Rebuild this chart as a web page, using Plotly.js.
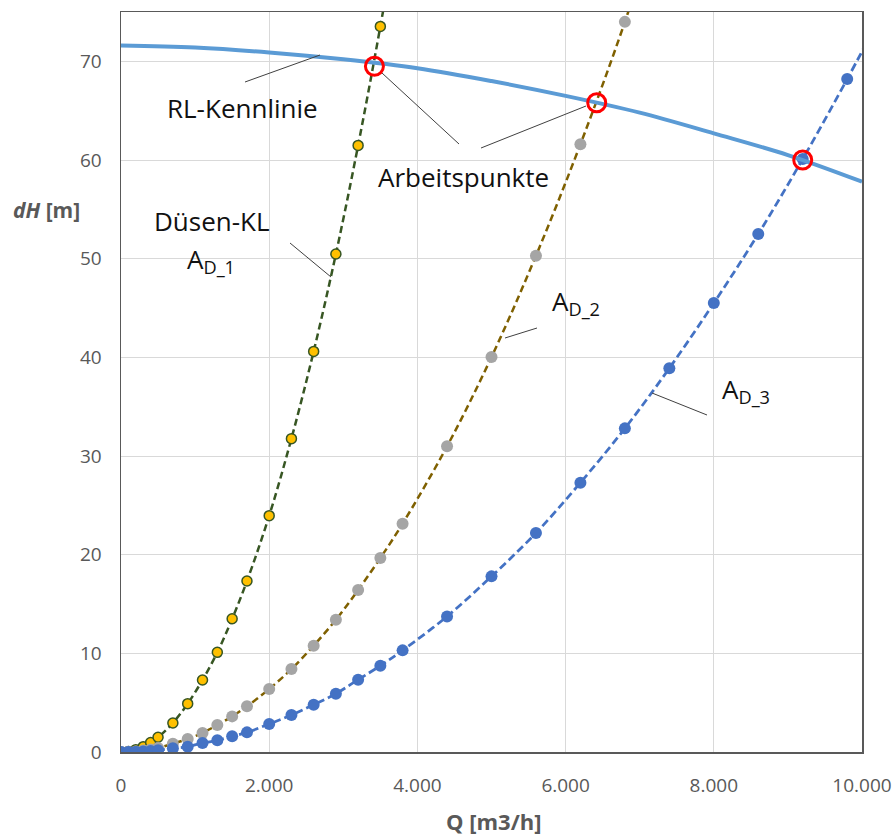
<!DOCTYPE html>
<html>
<head>
<meta charset="utf-8">
<script src="https://cdn.plot.ly/plotly-3.0.1.min.js"></script>
<style>html,body{margin:0;padding:0;background:#fff;}#chart{width:893px;height:838px;}</style>
</head>
<body>
<div id="chart"></div>
<script>
// ---- data ----
const Q_D1 = [0,100,200,300,400,500,700,900,1100,1300,1500,1700,2000,2300,2600,2900,3200,3500,3800];
const H_D1 = [0,0.06,0.24,0.54,0.96,1.49,2.94,4.9,7.3,10.1,13.5,17.33,23.95,31.76,40.6,50.47,61.48,73.54,86.6];

const Q_D2 = [0,100,200,300,400,500,700,900,1100,1300,1500,1700,2000,2300,2600,2900,3200,3500,3800,4400,5000,5600,6200,6800,7400];
const H_D2 = [0,0.02,0.06,0.14,0.26,0.4,0.84,1.32,1.93,2.74,3.61,4.63,6.39,8.41,10.78,13.41,16.42,19.66,23.14,30.98,40.03,50.3,61.6,74.0,88.0];

const Q_D3 = [0,100,200,300,400,500,700,900,1100,1300,1500,1700,2000,2300,2600,2900,3200,3500,3800,4400,5000,5600,6200,6800,7400,8000,8600,9200,9800,10400];
const H_D3 = [0,0.01,0.03,0.06,0.11,0.18,0.37,0.54,0.91,1.18,1.59,1.99,2.84,3.75,4.8,5.91,7.33,8.75,10.3,13.74,17.8,22.2,27.3,32.8,38.9,45.5,52.5,60.1,68.2,76.7];

const Q_RL = [0,1000,2000,3000,4000,5000,6000,7000,8000,9000,10000];
const H_RL = [71.6,71.4,70.9,70.2,69.3,68.0,66.5,64.8,62.7,60.5,57.8];

const Q_AP = [3420,6420,9200];
const H_AP = [69.5,65.8,60.0];

const xTickVals = [0,2000,4000,6000,8000,10000];
const yTickVals = [0,10,20,30,40,50,60,70];

// ---- layout helpers (pixel -> paper) ----
const L = 121, R = 862, T = 12, B = 752;
const px = x => (x - L) / (R - L);
const py = y => (B - y) / (B - T);

const FONT = "Open Sans, Noto Sans, sans-serif";
const dashPat = "7px,4px";

const traces = [
  {x: Q_D1, y: H_D1, type: 'scatter', mode: 'lines+markers',
   line: {color: '#375623', width: 2.5, dash: dashPat, shape: 'spline'},
   marker: {color: '#FFC000', size: 10, line: {color: '#375623', width: 1.5}}},
  {x: Q_D2, y: H_D2, type: 'scatter', mode: 'lines+markers',
   line: {color: '#7F6000', width: 2.5, dash: dashPat, shape: 'spline'},
   marker: {color: '#A5A5A5', size: 12, line: {width: 0}}},
  {x: Q_D3, y: H_D3, type: 'scatter', mode: 'lines+markers',
   line: {color: '#4472C4', width: 2.75, dash: "8px,4px", shape: 'spline'},
   marker: {color: '#4472C4', size: 12, line: {width: 0}}},
  {x: Q_RL, y: H_RL, type: 'scatter', mode: 'lines',
   line: {color: '#5B9BD5', width: 4, shape: 'spline'}},
  {x: Q_AP, y: H_AP, type: 'scatter', mode: 'markers',
   marker: {symbol: 'circle-open', color: '#FF0000', size: 18, line: {color: '#FF0000', width: 3}}}
];

// white label boxes (cover gridlines), in pixel coords
const boxes = [
  [150, 82, 335, 140],   // RL-Kennlinie
  [363, 150, 557, 202],  // Arbeitspunkte
  [133, 193, 290, 293],  // Düsen-KL
  [537, 272, 633, 383],  // A_D_2
  [706, 358, 803, 470]   // A_D_3
];
// leader lines, in pixel coords
const leaders = [
  [245, 82, 320, 55],
  [382, 73, 459, 144],
  [481, 148, 586, 106],
  [290, 243, 331, 277],
  [537, 328, 505, 338],
  [652, 393, 707, 415]
];

const shapes = [];
boxes.forEach(b => shapes.push({type: 'rect', xref: 'paper', yref: 'paper', layer: 'below',
  x0: px(b[0]), x1: px(b[2]), y0: py(b[3]), y1: py(b[1]),
  fillcolor: '#FFFFFF', line: {width: 0}}));
leaders.forEach(l => shapes.push({type: 'line', xref: 'paper', yref: 'paper',
  x0: px(l[0]), y0: py(l[1]), x1: px(l[2]), y1: py(l[3]),
  line: {color: '#404040', width: 1}}));

function lab(text, x, y, size, extra) {
  return Object.assign({text: text, xref: 'paper', yref: 'paper', x: px(x), y: py(y),
    xanchor: 'center', yanchor: 'middle', showarrow: false,
    font: {family: FONT, size: size, color: '#111111'}}, extra || {});
}

const annotations = [
  lab('RL-Kennlinie', 242, 108, 26),
  lab('Arbeitspunkte', 463, 177, 26),
  lab('Düsen-KL', 212, 221, 26),
  lab('A<sub>D_1</sub>', 211, 260, 26),
  lab('A<sub>D_2</sub>', 576, 302, 26),
  lab('A<sub>D_3</sub>', 746, 390, 26),
  // axis titles
  {text: '<b><i>dH</i> [m]</b>', xref: 'paper', yref: 'paper', x: px(46), y: py(210),
   xanchor: 'center', yanchor: 'middle', showarrow: false,
   font: {family: FONT, size: 21, color: '#595959'}},
  {text: '<b>Q [m3/h]</b>', xref: 'paper', yref: 'paper', x: px(494), y: py(821),
   xanchor: 'center', yanchor: 'middle', showarrow: false,
   font: {family: FONT, size: 22, color: '#595959'}}
];

const layout = {
  width: 893, height: 838,
  margin: {l: L, r: 893 - R, t: T, b: 838 - B, pad: 0},
  paper_bgcolor: '#FFFFFF', plot_bgcolor: '#FFFFFF',
  showlegend: false,
  separators: ',.',
  font: {family: FONT, color: '#595959'},
  xaxis: {range: [0, 10000], tickvals: xTickVals, tickformat: ',d',
    showgrid: true, gridcolor: '#D9D9D9', gridwidth: 1, zeroline: false,
    showline: true, mirror: true, linecolor: '#595959', linewidth: 1.5,
    ticks: '', ticklabelstandoff: 16,
    tickfont: {family: FONT, size: 19, color: '#595959'}},
  yaxis: {range: [0, 75], tickvals: yTickVals,
    showgrid: true, gridcolor: '#D9D9D9', gridwidth: 1, zeroline: false,
    showline: true, mirror: true, linecolor: '#595959', linewidth: 1.5,
    ticks: '', ticklabelstandoff: 14,
    tickfont: {family: FONT, size: 19, color: '#595959'}},
  shapes: shapes,
  annotations: annotations
};

Plotly.newPlot('chart', traces, layout, {displayModeBar: false, staticPlot: true});
</script>
</body>
</html>
